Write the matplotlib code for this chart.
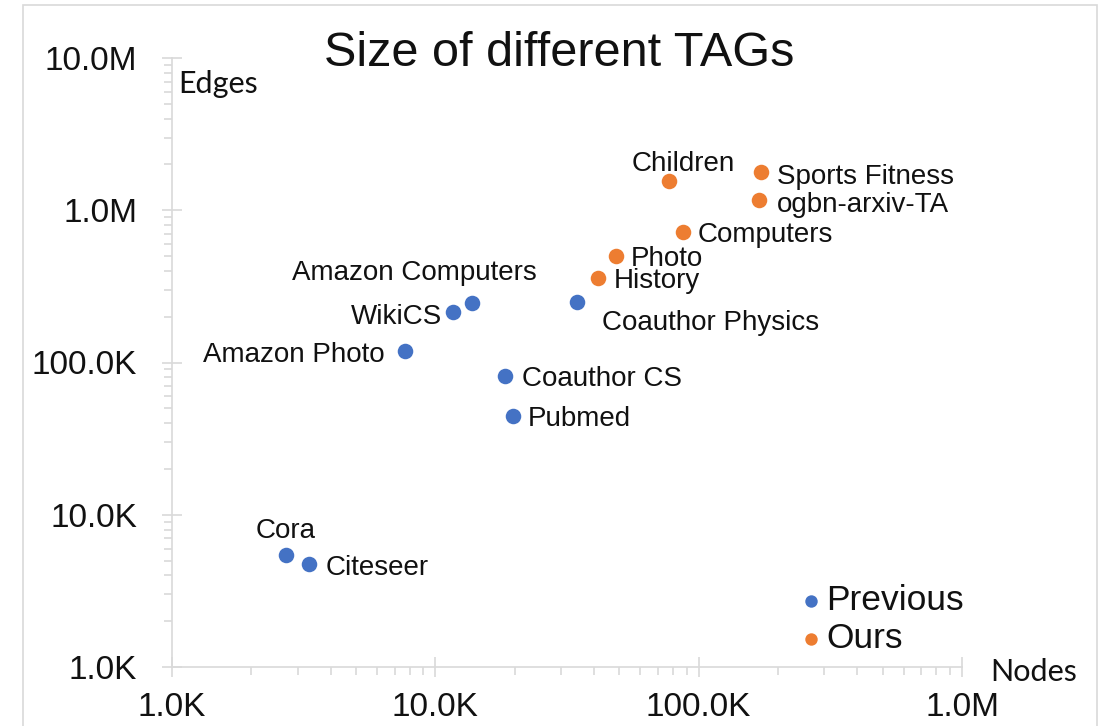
import matplotlib
matplotlib.use("Agg")
from matplotlib import pyplot as plt
from matplotlib.ticker import LogLocator, FuncFormatter, NullFormatter
from matplotlib.patches import Rectangle

# datasets: name, nodes, edges
prev_names = ["Cora", "Citeseer", "Amazon Photo", "WikiCS", "Amazon Computers",
              "Coauthor CS", "Pubmed", "Coauthor Physics"]
prev_nodes = [2708, 3327, 7650, 11701, 13752, 18333, 19717, 34493]
prev_edges = [5429, 4732, 119081, 216123, 245861, 81894, 44338, 247962]

ours_names = ["History", "Photo", "Children", "Computers", "Sports Fitness",
              "ogbn-arxiv-TA"]
ours_nodes = [41551, 48362, 76875, 87229, 173055, 169343]
ours_edges = [358574, 500928, 1554578, 721081, 1773500, 1166243]

# label placement: (dx, dy) in pixels, horizontal alignment
label_pos = {
    "Cora": (0, 24, "center"),
    "Citeseer": (16, -4, "left"),
    "Amazon Photo": (-20, -4, "right"),
    "WikiCS": (-11, -5, "right"),
    "Amazon Computers": (-57, 30, "center"),
    "Coauthor CS": (17, -3, "left"),
    "Pubmed": (15, -3, "left"),
    "Coauthor Physics": (25, -21, "left"),
    "History": (16, -3, "left"),
    "Photo": (15, -3, "left"),
    "Children": (15, 17, "center"),
    "Computers": (15, -3, "left"),
    "Sports Fitness": (16, -5, "left"),
    "ogbn-arxiv-TA": (18, -5, "left"),
}

blue = "#4472C4"
orange = "#ED7D31"
grid_gray = "#d9d9d9"
text_col = "#111111"
font = "Liberation Sans"

plt.rcParams["font.family"] = [font, "DejaVu Sans"]

W, H = 1102, 726
fig = plt.figure(figsize=(W / 100, H / 100), dpi=100)
ax = fig.add_axes([172 / W, 1 - 667 / H, 790 / W, 609 / H])

ax.scatter(prev_nodes, prev_edges, s=125, color=blue, zorder=3,
           linewidths=0, label="Previous")
ax.scatter(ours_nodes, ours_edges, s=125, color=orange, zorder=3,
           linewidths=0, label="Ours")

for names, xs, ys in [(prev_names, prev_nodes, prev_edges),
                      (ours_names, ours_nodes, ours_edges)]:
    for n, x, y in zip(names, xs, ys):
        dx, dy, ha = label_pos[n]
        ax.annotate(n, (x, y), xytext=(dx, dy), textcoords="offset pixels",
                    ha=ha, va="center", fontsize=20, color=text_col)

ax.set_xscale("log")
ax.set_yscale("log")
ax.set_xlim(1e3, 1e6)
ax.set_ylim(1e3, 1e7)


def fmt(v, pos):
    if v >= 1e6:
        return "%.1fM" % (v / 1e6)
    return "%.1fK" % (v / 1e3)


for axis in (ax.xaxis, ax.yaxis):
    axis.set_major_locator(LogLocator(base=10, numticks=10))
    axis.set_minor_locator(LogLocator(base=10, subs=range(2, 10), numticks=10))
    axis.set_major_formatter(FuncFormatter(fmt))
    axis.set_minor_formatter(NullFormatter())

for side in ["top", "right"]:
    ax.spines[side].set_visible(False)
for side in ["left", "bottom"]:
    ax.spines[side].set_color(grid_gray)
    ax.spines[side].set_linewidth(1.2)
    ax.spines[side].set_zorder(1)

ax.tick_params(which="major", direction="inout", length=14, width=1.2,
               color=grid_gray, labelsize=24, labelcolor=text_col)
ax.tick_params(axis="y", which="major", pad=18)
ax.tick_params(axis="x", which="major", pad=11)
ax.tick_params(which="minor", direction="out", length=6, width=1.2,
               color=grid_gray)

ax.patch.set_alpha(0)

# axis titles
fig.text(178 / W, 1 - 84 / H, "Edges", fontsize=22, family="Lato",
         ha="left", va="center", color=text_col)
fig.text(990 / W, 1 - 672 / H, "Nodes", fontsize=22, family="Lato",
         ha="left", va="center", color=text_col)

fig.text(559 / W, 1 - 53 / H, "Size of different TAGs", fontsize=35,
         ha="center", va="center", color=text_col)

leg = ax.legend(loc="upper left", bbox_to_anchor=(798 / W, 1 - 584 / H),
                bbox_transform=fig.transFigure, frameon=False, fontsize=25.5,
                markerscale=0.8, handletextpad=0.05, handlelength=0.75,
                labelspacing=0.14, borderpad=0, borderaxespad=0)
for t in leg.get_texts():
    t.set_color(text_col)

# outer chart frame
fig.patches.append(Rectangle((23 / W, -0.02), (1097 - 23) / W, 1.02 - 5 / H,
                             transform=fig.transFigure, fill=False,
                             edgecolor=grid_gray, linewidth=1.2))

fig.savefig("out.png", dpi=100)
